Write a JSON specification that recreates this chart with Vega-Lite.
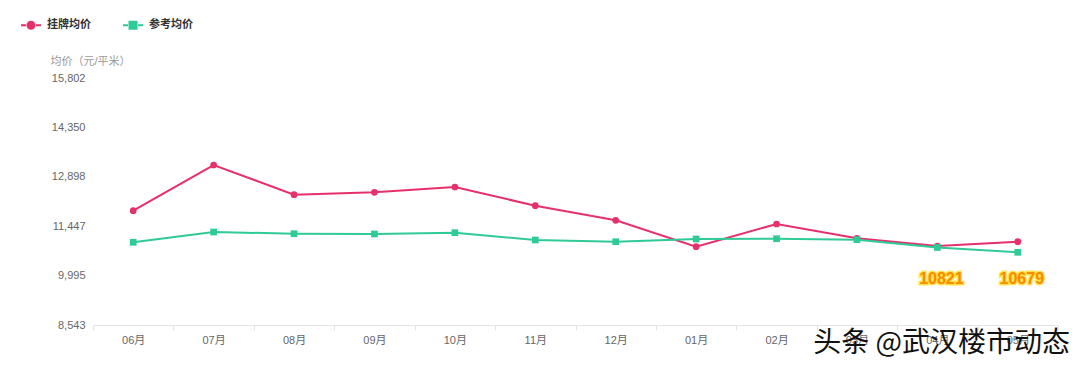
{
  "$schema": "https://vega.github.io/schema/vega-lite/v6.json",
  "width": 965,
  "height": 247,
  "autosize": {"type": "none"},
  "padding": {"left": 93, "top": 78, "right": 22, "bottom": 45},
  "background": "white",
  "config": {
    "view": {"stroke": null},
    "font": "Liberation Sans, Noto Sans CJK SC"
  },
  "title": {
    "text": "头条 @武汉楼市动态",
    "orient": "bottom",
    "anchor": "end",
    "frame": "group",
    "font": "Noto Sans CJK SC",
    "fontSize": 28,
    "fontWeight": "normal",
    "color": "#111111",
    "offset": -15,
    "dx": 12
  },
  "data": {
    "values": [
      {"month": "06月", "series": "挂牌均价", "value": 11902},
      {"month": "07月", "series": "挂牌均价", "value": 13245},
      {"month": "08月", "series": "挂牌均价", "value": 12373},
      {"month": "09月", "series": "挂牌均价", "value": 12443},
      {"month": "10月", "series": "挂牌均价", "value": 12599},
      {"month": "11月", "series": "挂牌均价", "value": 12049},
      {"month": "12月", "series": "挂牌均价", "value": 11620},
      {"month": "01月", "series": "挂牌均价", "value": 10844},
      {"month": "02月", "series": "挂牌均价", "value": 11511},
      {"month": "03月", "series": "挂牌均价", "value": 11091},
      {"month": "04月", "series": "挂牌均价", "value": 10865},
      {"month": "05月", "series": "挂牌均价", "value": 10991},
      {"month": "06月", "series": "参考均价", "value": 10974},
      {"month": "07月", "series": "参考均价", "value": 11276},
      {"month": "08月", "series": "参考均价", "value": 11226},
      {"month": "09月", "series": "参考均价", "value": 11218},
      {"month": "10月", "series": "参考均价", "value": 11256},
      {"month": "11月", "series": "参考均价", "value": 11041},
      {"month": "12月", "series": "参考均价", "value": 10991},
      {"month": "01月", "series": "参考均价", "value": 11071},
      {"month": "02月", "series": "参考均价", "value": 11078},
      {"month": "03月", "series": "参考均价", "value": 11050},
      {"month": "04月", "series": "参考均价", "value": 10821},
      {"month": "05月", "series": "参考均价", "value": 10679}
    ]
  },
  "encoding": {
    "x": {
      "field": "month",
      "type": "ordinal",
      "sort": null,
      "scale": {"type": "band", "paddingInner": 0, "paddingOuter": 0},
      "axis": {
        "title": null,
        "labelAngle": 0,
        "domainColor": "#e3e3e3",
        "tickColor": "#e3e3e3",
        "tickSize": 5,
        "tickBand": "extent",
        "labelColor": "#666666",
        "labelFontSize": 11,
        "labelPadding": 4,
        "grid": false
      }
    },
    "y": {
      "field": "value",
      "type": "quantitative",
      "scale": {"domain": [8543, 15802], "nice": false, "zero": false},
      "axis": {
        "values": [8543, 9995, 11447, 12898, 14350, 15802],
        "format": ",d",
        "domain": false,
        "ticks": false,
        "grid": false,
        "labelColor": "#666666",
        "labelFontSize": 11,
        "labelPadding": 8,
        "title": "均价（元/平米）",
        "titleAngle": 0,
        "titleAlign": "left",
        "titleBaseline": "middle",
        "titleX": -43,
        "titleY": -17,
        "titleColor": "#999999",
        "titleFontSize": 11,
        "titleFontWeight": "normal"
      }
    }
  },
  "layer": [
    {
      "mark": {"type": "line", "strokeWidth": 2},
      "encoding": {
        "color": {
          "field": "series",
          "type": "nominal",
          "scale": {"domain": ["挂牌均价", "参考均价"], "range": ["#e6306a", "#2fca95"]},
          "legend": {
            "title": null,
            "orient": "none",
            "direction": "horizontal",
            "legendX": -73,
            "legendY": -64,
            "symbolSize": 400,
            "symbolStrokeWidth": 2,
            "labelFontSize": 11,
            "labelFontWeight": "bold",
            "labelColor": "#333333",
            "labelOffset": 5,
            "columnPadding": 28,
            "encode": {
              "symbols": {
                "update": {
                  "shape": {"signal": "datum.value === '挂牌均价' ? 'M-1,0H-0.5M0.5,0H1M0.35,0A0.35,0.35,0,1,1,-0.35,0A0.35,0.35,0,1,1,0.35,0Z' : 'M-1,0H-0.5M0.5,0H1M-0.35,-0.35H0.35V0.35H-0.35Z'"},
                  "fill": {"signal": "datum.value === '挂牌均价' ? '#e6306a' : '#2fca95'"},
                  "stroke": {"signal": "datum.value === '挂牌均价' ? '#e6306a' : '#2fca95'"},
                  "strokeWidth": {"value": 2},
                  "opacity": {"value": 1}
                }
              }
            }
          }
        }
      }
    },
    {
      "mark": {"type": "point", "filled": true, "opacity": 1, "size": 45},
      "encoding": {
        "color": {"field": "series", "type": "nominal", "legend": null},
        "shape": {
          "condition": {"test": "datum.series === '参考均价'", "value": "square"},
          "value": "circle"
        }
      }
    },
    {
      "transform": [
        {"filter": "datum.series === '参考均价' && (datum.month === '04月' || datum.month === '05月')"}
      ],
      "mark": {
        "type": "text",
        "font": "Liberation Sans Narrow, Liberation Sans",
        "fontSize": 16,
        "fontWeight": "bold",
        "stroke": "#ffe033",
        "strokeWidth": 3,
        "strokeOpacity": 0.85,
        "fill": "#ffe033",
        "baseline": "middle",
        "align": "center",
        "dx": 4
      },
      "encoding": {
        "y": {"datum": 9900},
        "text": {"field": "value", "type": "quantitative", "format": "d"}
      }
    },
    {
      "transform": [
        {"filter": "datum.series === '参考均价' && (datum.month === '04月' || datum.month === '05月')"}
      ],
      "mark": {
        "type": "text",
        "font": "Liberation Sans Narrow, Liberation Sans",
        "fontSize": 16,
        "fontWeight": "bold",
        "fill": "#fb8a00",
        "baseline": "middle",
        "align": "center",
        "dx": 4
      },
      "encoding": {
        "y": {"datum": 9900},
        "text": {"field": "value", "type": "quantitative", "format": "d"}
      }
    }
  ]
}
